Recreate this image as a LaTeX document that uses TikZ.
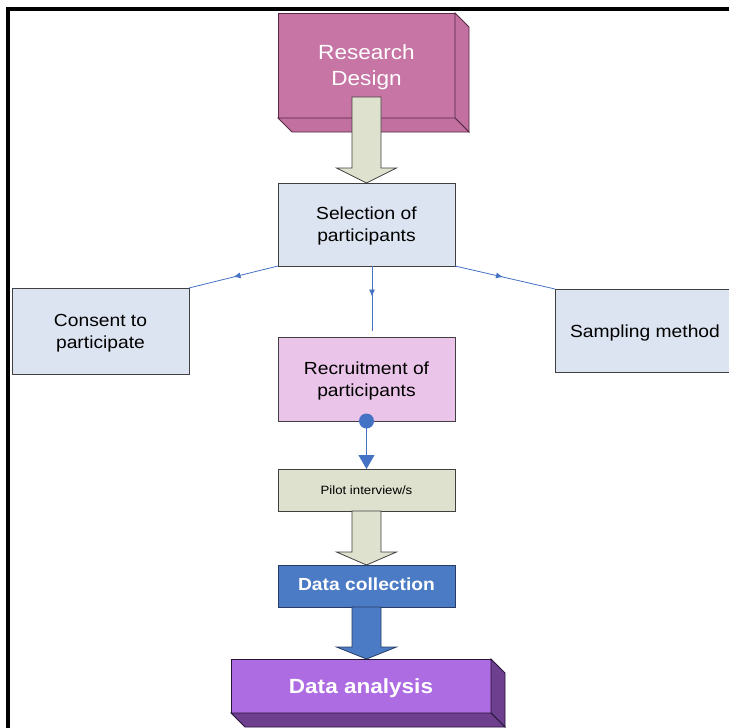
\documentclass[tikz,border=0pt]{standalone}
\usepackage{fontspec}
\setmainfont{Liberation Sans}[FakeStretch=1.1]
\usetikzlibrary{calc,decorations.markings,arrows.meta}
\definecolor{rdfront}{RGB}{198,117,164}
\definecolor{rdside}{RGB}{194,112,160}
\definecolor{rdedge}{RGB}{85,40,68}
\definecolor{paleblue}{RGB}{221,228,241}
\definecolor{lilac}{RGB}{234,197,233}
\definecolor{sage}{RGB}{222,225,205}
\definecolor{dcblue}{RGB}{74,123,196}
\definecolor{dcedge}{RGB}{40,60,100}
\definecolor{lineblue}{RGB}{68,114,196}
\definecolor{dafront}{RGB}{174,108,227}
\definecolor{daside}{RGB}{110,63,143}
\definecolor{daedge}{RGB}{40,20,55}
\definecolor{boxedge}{RGB}{64,64,64}
\tikzset{
  box/.style={draw=boxedge, line width=0.9pt, minimum width=177pt, outer sep=0pt,
    inner sep=0pt, align=center, text=black},
  midtxt/.style={font=\fontsize{17.5}{22}\selectfont},
  conn/.style={draw=lineblue, line width=0.8pt, postaction=decorate,
    decoration={markings, mark=at position #1 with {\arrow{Latex[length=7pt,width=6pt]}}}},
  blockfill/.style={fill=sage, draw=boxedge, line width=0.8pt},
}
\newcommand\lowtext[2]{\raisebox{#1}[\height][\depth]{\begin{tabular}{@{}c@{}}#2\end{tabular}}}
\newcommand\blockarr[4]{% style, start, tip, head height
  \path[#1] let \p1=(#2), \p2=(#3) in
    (\x2-14.5pt,\y1) -- (\x2+14.5pt,\y1) -- (\x2+14.5pt,\y2+#4) -- (\x2+30pt,\y2+#4)
    -- (\x2,\y2) -- (\x2-30pt,\y2+#4) -- (\x2-14.5pt,\y2+#4) -- cycle;}
\begin{document}
\begin{tikzpicture}[x=1pt,y=-1pt]
\useasboundingbox (0,0) rectangle (729,728);
\fill[white] (0,0) rectangle (729,728);
% frame
\draw[line width=4.3pt] (6,8.8) -- (729,8.8);
\draw[line width=4.3pt] (8.2,6.6) -- (8.2,728);

% Research Design 3D box
\node[box, draw=rdedge, fill=rdfront, minimum height=105pt, text=white,
  font=\fontsize{20.5}{26}\selectfont] (rd) at (366.5,65.5) {\lowtext{-2pt}{Research\\Design}};
\draw[fill=rdside, draw=rdedge, line width=0.8pt] (rd.north east) -- ++(14,14) -- ++(0,105) -- (rd.south east) -- cycle;
\draw[fill=rdside, draw=rdedge, line width=0.8pt] (rd.south west) -- (rd.south east) -- ++(14,14) -- ++(-177,0) -- cycle;

% Selection
\node[box, fill=paleblue, minimum height=83pt, midtxt] (sel) at (366.5,224.5) {\lowtext{-2pt}{Selection of\\participants}};
\blockarr{blockfill}{[yshift=21pt]rd.south}{sel.north}{15pt}

% side boxes
\node[box, fill=paleblue, minimum height=86pt, midtxt] (cons) at (100.5,331) {\lowtext{-2pt}{Consent to\\participate}};
\node[box, fill=paleblue, minimum width=180pt, minimum height=83pt, midtxt] (samp) at (645,330.5) {\lowtext{-3pt}{Sampling method}};

% Recruitment
\node[box, fill=lilac, minimum height=84pt, midtxt] (rec) at (366.5,379) {\lowtext{-2pt}{Recruitment of\\participants}};

% connectors from selection
\coordinate (midend) at (372,331);
\draw[conn=0.5] (sel.south west) -- (cons.north east);
\draw[conn=0.48] (sel.south east) -- (samp.north west);
\draw[conn=0.47] ([xshift=5.5pt]sel.south) -- (midend);

% Pilot
\node[box, fill=sage, minimum height=42pt, font=\fontsize{12}{14}\selectfont] (pilot) at (366.5,490) {Pilot interview/s};
\draw[draw=lineblue, line width=0.9pt, -{Triangle[length=14pt,width=16pt]}] (rec.south) -- (pilot.north);
\fill[lineblue] (rec.south) circle (7.5);

% Data collection
\node[box, draw=dcedge, fill=dcblue, minimum height=42pt, text=white,
  font=\bfseries\fontsize{17.5}{22}\selectfont] (dc) at (366.5,586) {\lowtext{-0.5pt}{Data collection}};
\blockarr{blockfill}{pilot.south}{dc.north}{13pt}

% Data analysis 3D box
\node[box, draw=daedge, fill=dafront, minimum width=260pt, minimum height=54pt, text=white,
  font=\bfseries\fontsize{20.5}{26}\selectfont] (da) at (361,686) {\lowtext{-2pt}{Data analysis}};
\draw[fill=daside, draw=daedge, line width=0.8pt] (da.north east) -- ++(14,14) -- ++(0,54) -- (da.south east) -- cycle;
\draw[fill=daside, draw=daedge, line width=0.8pt] (da.south west) -- (da.south east) -- ++(14,14) -- ++(-260,0) -- cycle;
\blockarr{fill=dcblue, draw=dcedge, line width=0.8pt}{dc.south}{[xshift=5.5pt]da.north}{12pt}
\end{tikzpicture}
\end{document}
